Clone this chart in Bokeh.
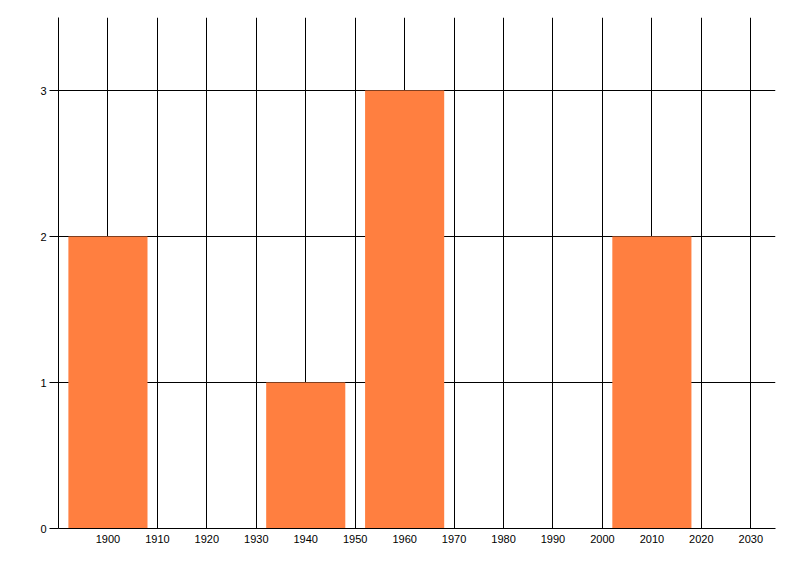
from bokeh.plotting import figure
from bokeh.models import FixedTicker, Range1d
from bokeh.embed import file_html
from bokeh.resources import INLINE

# histogram bins (centre year) and counts
years = [1900, 1940, 1960, 2010]
counts = [2, 1, 3, 2]
bin_width = 16

x_ticks = [1900, 1910, 1920, 1930, 1940, 1950, 1960, 1970, 1980, 1990, 2000, 2010, 2020, 2030]
x_grid = [1890] + x_ticks
y_ticks = [0, 1, 2, 3]

p = figure(
    width=784, height=560,
    x_range=Range1d(1890, 2035), y_range=Range1d(0, 3.5),
    output_backend="svg", toolbar_location=None,
    min_border_left=58, min_border_right=9,
    min_border_top=17, min_border_bottom=32,
)
p.outline_line_color = None

p.vbar(x=years, top=counts, width=bin_width, bottom=0,
       color="#FF7F40", line_color=None)

# grid
p.xgrid.ticker = FixedTicker(ticks=x_grid)
p.ygrid.ticker = FixedTicker(ticks=y_ticks)
for g in (p.xgrid, p.ygrid):
    g.grid_line_color = "black"
    g.grid_line_width = 1
    g.grid_line_alpha = 1.0

# x axis
xa = p.xaxis[0]
xa.ticker = FixedTicker(ticks=x_ticks)
xa.axis_line_color = "black"
xa.major_tick_out = 0
xa.major_tick_in = 0
xa.minor_tick_line_color = None
xa.major_label_standoff = 6
xa.major_label_text_font = "Liberation Sans"
xa.major_label_text_font_size = "11px"
xa.major_label_text_color = "#000000"

# y axis (its line stands in for the 1890 grid line)
ya = p.yaxis[0]
ya.ticker = FixedTicker(ticks=y_ticks)
ya.axis_line_color = "black"
ya.major_tick_out = 9
ya.major_tick_in = 0
ya.major_tick_line_color = "black"
ya.minor_tick_line_color = None
ya.major_label_standoff = 3
ya.major_label_text_font = "Liberation Sans"
ya.major_label_text_font_size = "11px"
ya.major_label_text_color = "#000000"

open("out.html", "w").write(file_html(p, INLINE))
